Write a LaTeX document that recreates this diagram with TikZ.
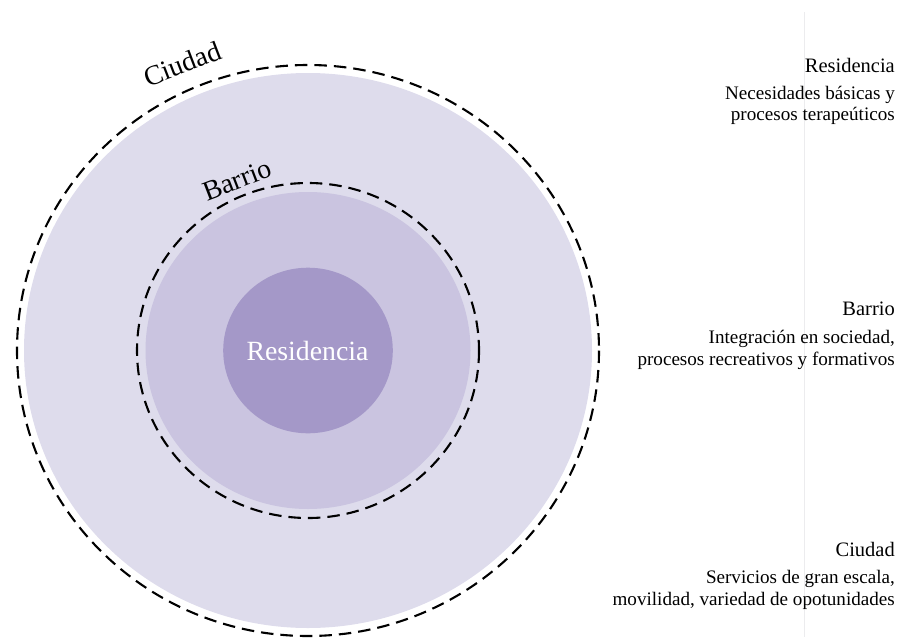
\documentclass[tikz,border=0pt]{standalone}
\usepackage{fontspec}
\setmainfont{Liberation Serif}
\definecolor{ciudadfill}{RGB}{222,220,236}
\definecolor{barriofill}{RGB}{202,196,224}
\definecolor{resfill}{RGB}{164,152,200}
\definecolor{sepline}{RGB}{236,236,238}
\begin{document}
\begin{tikzpicture}[x=1pt,y=-1pt,
  dashring/.style={draw=black, line width=2.1pt, dash pattern=on 12.5pt off 7pt},
  ringlabel/.style={inner sep=0pt, font=\fontsize{27.8}{30}\selectfont},
  headtxt/.style={anchor=base east, inner sep=0pt, font=\fontsize{20.5}{24}\selectfont},
  bodytxt/.style={anchor=base east, inner sep=0pt, font=\fontsize{19.1}{22}\selectfont}]
\useasboundingbox (0,0) rectangle (899,637);
\coordinate (c) at (308,350.5);
% separator line
\coordinate (l1) at (804,12);
\coordinate (l2) at (804,637);
\draw[sepline, line width=1pt] (l1) -- (l2);
% Ciudad
\fill[ciudadfill] (c) ellipse [x radius=284, y radius=277.5];
\draw[dashring] (c) ellipse [x radius=291, y radius=285.5];
% Barrio
\fill[barriofill] (c) ellipse [x radius=162.5, y radius=158.5];
\draw[dashring] (c) ellipse [x radius=171, y radius=167.5];
% Residencia
\fill[resfill] (c) ellipse [x radius=84.8, y radius=82.8];
\node[ringlabel, anchor=base, text=white] (rc) at (307.5,360) {Residencia};
% ring labels
\node[ringlabel, rotate=21] (lc) at (182.5,64) {Ciudad};
\node[ringlabel, rotate=21] (lb) at (237,180) {Barrio};
% right descriptions
\node[headtxt] (r1) at (895,72.7) {Residencia};
\node[bodytxt] (r2) at (895,99.3) {Necesidades básicas y};
\node[bodytxt] (r3) at (895,120.7) {procesos terapeúticos};
\node[headtxt] (b1) at (895,315) {Barrio};
\node[bodytxt] (b2) at (895,343.3) {Integración en sociedad,};
\node[bodytxt] (b3) at (895,365) {procesos recreativos y formativos};
\node[headtxt] (c1) at (895,556) {Ciudad};
\node[bodytxt] (c2) at (895,583.3) {Servicios de gran escala,};
\node[bodytxt] (c3) at (895,605) {movilidad, variedad de opotunidades};
\end{tikzpicture}
\end{document}
